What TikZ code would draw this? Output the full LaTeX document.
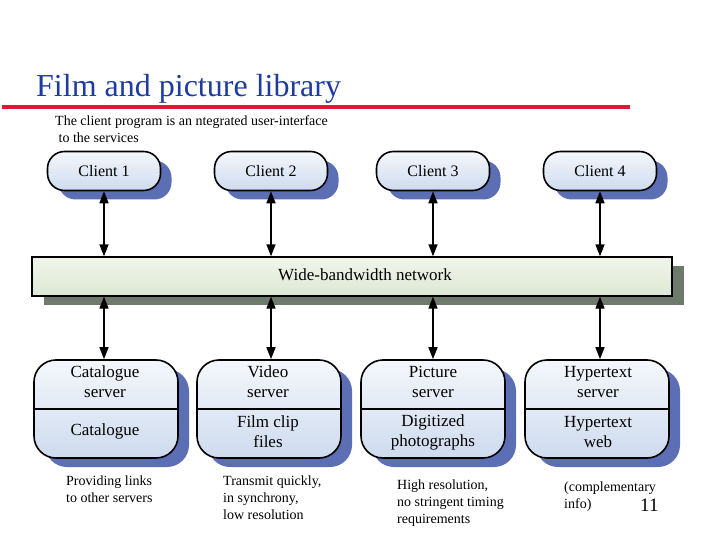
\documentclass[tikz,border=0pt]{standalone}
\usepackage{fontspec}
\setmainfont{Liberation Serif}
\usetikzlibrary{arrows.meta,shadows}
\definecolor{titleblue}{RGB}{30,60,160}
\definecolor{rulered}{RGB}{224,24,56}
\definecolor{shblue}{RGB}{92,110,180}
\definecolor{shgrey}{RGB}{110,122,108}
\definecolor{boxtop}{RGB}{244,247,252}
\definecolor{boxbot}{RGB}{206,219,238}
\definecolor{nettop}{RGB}{240,245,234}
\definecolor{netbot}{RGB}{222,232,212}
\tikzset{
  clientbox/.style={draw=black, line width=1.6pt, rounded corners=17pt,
    minimum width=113pt, minimum height=39pt, inner sep=0pt,
    top color=boxtop, bottom color=boxbot,
    drop shadow={shadow xshift=11pt, shadow yshift=-9pt, fill=shblue, opacity=1},
    font=\fontsize{16}{18}\selectfont},
  serverbox/.style={draw=black, line width=1.6pt, rounded corners=22pt,
    minimum width=144pt, minimum height=98pt, inner sep=0pt,
    top color=boxtop, bottom color=boxbot,
    drop shadow={shadow xshift=11pt, shadow yshift=-9pt, fill=shblue, opacity=1}},
  netbox/.style={draw=black, line width=1.4pt,
    minimum width=640pt, minimum height=39pt, inner sep=0pt,
    top color=nettop, bottom color=netbot,
    drop shadow={shadow xshift=12pt, shadow yshift=-9pt, fill=shgrey, opacity=1}},
  srvtext/.style={align=center, font=\fontsize{17}{20}\selectfont, inner sep=0pt},
  note/.style={anchor=north west, align=left, inner sep=0pt,
    font=\fontsize{14}{17}\selectfont},
  dbl/.style={{Triangle[width=9pt,length=12pt]}-{Triangle[width=9pt,length=12pt]}, line width=1.6pt},
}
\begin{document}
\begin{tikzpicture}[x=1pt,y=-1pt]
\useasboundingbox (0,0) rectangle (720,540);
% title
\node[anchor=base west, inner sep=0pt, text=titleblue, font=\fontsize{32}{34}\selectfont] (title) at (36,97) {Film and picture library};
\draw[rulered, line width=4pt] (2,107) -- (630,107);
\node[anchor=north west, align=left, inner sep=0pt, font=\fontsize{14}{17}\selectfont] (sub) at (55,115)
  {The client program is an ntegrated user-interface\\\ to the services};
% clients
\node[clientbox] (c1) at (104,171) {Client 1};
\node[clientbox] (c2) at (271,171) {Client 2};
\node[clientbox] (c3) at (433,171) {Client 3};
\node[clientbox] (c4) at (600,171) {Client 4};
% network
\node[netbox] (net) at (352,276.5) {};
\node[inner sep=0pt, font=\fontsize{17}{18}\selectfont] (netlabel) at (365,275) {Wide-bandwidth network};
% servers
\node[serverbox] (s1) at (106,409) {};
\node[serverbox] (s2) at (269,409) {};
\node[serverbox] (s3) at (433,409) {};
\node[serverbox] (s4) at (597,409) {};
\foreach \s in {s1,s2,s3,s4} {\draw[line width=1.4pt] (\s.west) -- (\s.east);}
\node[srvtext] (s1a) at (105,382) {Catalogue\\server};
\node[srvtext] (s1b) at (105,431) {Catalogue};
\node[srvtext] (s2a) at (268,382) {Video\\server};
\node[srvtext] (s2b) at (268,432) {Film clip\\files};
\node[srvtext] (s3a) at (433,382) {Picture\\server};
\node[srvtext] (s3b) at (433,432) {Digitized\\photographs};
\node[srvtext] (s4a) at (598,382) {Hypertext\\server};
\node[srvtext] (s4b) at (598,432) {Hypertext\\web};
% arrows
\foreach \c/\s in {c1/s1,c2/s2,c3/s3,c4/s4} {
  \draw[dbl] (\c.south) -- (\c.south |- net.north);
  \draw[dbl] (\c.south |- net.south) -- (\c.south |- \s.north);
}
% notes
\node[note] (n1) at (66,476) {Providing links\\to other servers};
\node[note] (n2) at (223,476) {Transmit quickly,\\in synchrony,\\low resolution};
\node[note] (n3) at (397,480) {High resolution,\\no stringent timing\\requirements};
\node[note] (n4) at (564,482) {(complementary\\info)};
\node[anchor=base west, inner sep=0pt, font=\fontsize{19}{20}\selectfont] (pg) at (640,511) {11};
\end{tikzpicture}
\end{document}
